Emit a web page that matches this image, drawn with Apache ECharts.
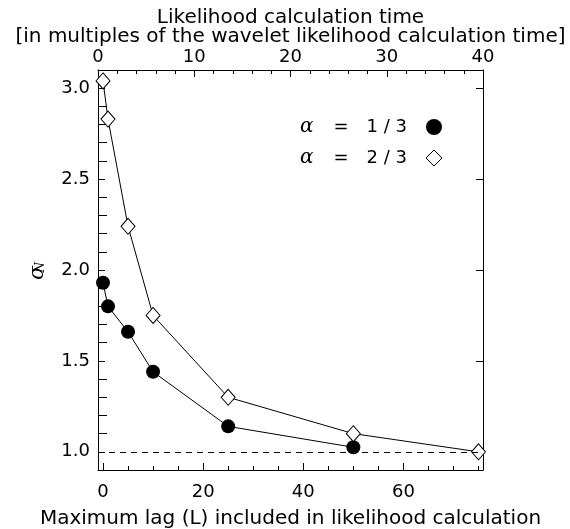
<!DOCTYPE html>
<html>
<head>
<meta charset="utf-8">
<script src="https://cdn.jsdelivr.net/npm/echarts@6/dist/echarts.min.js"></script>
<style>html,body{margin:0;padding:0;background:#fff;}#c{width:570px;height:529px;}</style>
</head>
<body>
<div id="c"></div>
<script>
// ---- data ----
const lagsThird = [0, 1, 5, 10, 25, 50];
const sigmaThird = [1.93, 1.80, 1.66, 1.44, 1.14, 1.025];
const lagsTwoThird = [0, 1, 5, 10, 25, 50, 75];
const sigmaTwoThird = [3.04, 2.83, 2.24, 1.75, 1.30, 1.10, 1.00];
const seriesNames = ['α = 1/3', 'α = 2/3'];
const bottomMajorTicks = [0, 20, 40, 60];
const bottomMinorTicks = [5, 10, 15, 25, 30, 35, 45, 50, 55, 65, 70, 75];
const leftMajorTicks = [1.0, 1.5, 2.0, 2.5, 3.0];
const leftMinorTicks = [1.1, 1.2, 1.3, 1.4, 1.6, 1.7, 1.8, 1.9, 2.1, 2.2, 2.3, 2.4, 2.6, 2.7, 2.8, 2.9];
const referenceLevel = 1.0;
const xTitle = 'Maximum lag (L) included in likelihood calculation';
const topTitle = 'Likelihood calculation time\n[in multiples of the wavelet likelihood calculation time]';

const FONT = 'DejaVu Sans';
const txt = {color: '#000', fontFamily: FONT, fontSize: 18};
const titleTxt = {color: '#000', fontFamily: FONT, fontSize: 20};
const pairs = (xs, ys) => xs.map((x, i) => [x, ys[i]]);

const XMIN = -1, XMAX = 75.9, YMIN = 0.9, YMAX = 3.1;

function xAx(extra) {
  return Object.assign({
    type: 'value', min: XMIN, max: XMAX, position: 'bottom',
    splitLine: {show: false},
    axisLine: {show: false},
    axisTick: {show: false},
    axisLabel: {show: false}
  }, extra);
}
function yAx(extra) {
  return Object.assign({
    type: 'value', min: YMIN, max: YMAX, position: 'left',
    splitLine: {show: false},
    axisLine: {show: false},
    axisTick: {show: false},
    axisLabel: {show: false}
  }, extra);
}

const chart = echarts.init(document.getElementById('c'), null, {renderer: 'canvas'});
chart.setOption({
  backgroundColor: '#fff',
  animation: false,
  grid: {left: 98, right: 87, top: 70, bottom: 59, containLabel: false, outerBoundsMode: 'none'},
  xAxis: [
    xAx({
      axisLine: {show: true, onZero: false, lineStyle: {color: '#000', width: 1}},
      axisTick: {show: true, inside: true, length: 7, lineStyle: {color: '#000'}, customValues: bottomMajorTicks},
      axisLabel: Object.assign({show: true, margin: 13, customValues: bottomMajorTicks}, txt),
      name: xTitle, nameLocation: 'middle', nameGap: 39, nameMoveOverlap: false,
      nameTextStyle: titleTxt
    }),
    xAx({
      axisTick: {show: true, inside: true, length: 4, lineStyle: {color: '#000'}, customValues: bottomMinorTicks}
    }),
    {
      type: 'value', position: 'top', min: 0, max: 40, interval: 10,
      splitLine: {show: false},
      axisLine: {show: true, onZero: false, lineStyle: {color: '#000', width: 1}},
      axisTick: {show: true, inside: true, length: 7, lineStyle: {color: '#000'}},
      minorTick: {show: true, splitNumber: 5, length: 4, lineStyle: {color: '#000'}},
      axisLabel: Object.assign({show: true, margin: 4}, txt),
      name: topTitle, nameLocation: 'middle', nameGap: 24, nameMoveOverlap: false,
      nameTextStyle: Object.assign({lineHeight: 19}, titleTxt)
    }
  ],
  yAxis: [
    yAx({
      axisLine: {show: true, onZero: false, lineStyle: {color: '#000', width: 1}},
      axisTick: {show: true, inside: true, length: 7, lineStyle: {color: '#000'}, customValues: leftMajorTicks},
      axisLabel: Object.assign({show: true, margin: 8, customValues: leftMajorTicks,
        formatter: v => v.toFixed(1)}, txt)
    }),
    yAx({
      axisTick: {show: true, inside: true, length: 4, lineStyle: {color: '#000'}, customValues: leftMinorTicks}
    }),
    yAx({
      position: 'right',
      axisLine: {show: true, onZero: false, lineStyle: {color: '#000', width: 1}},
      axisTick: {show: true, inside: true, length: 7, lineStyle: {color: '#000'}, customValues: leftMajorTicks}
    }),
    yAx({
      position: 'right',
      axisTick: {show: true, inside: true, length: 4, lineStyle: {color: '#000'}, customValues: leftMinorTicks}
    })
  ],
  legend: {
    left: 295, top: 112, orient: 'vertical', align: 'right',
    itemWidth: 16, itemHeight: 16, itemGap: 11,
    selectedMode: false,
    data: [
      {name: seriesNames[0], icon: 'circle', itemStyle: {color: '#000', borderWidth: 0}},
      {name: seriesNames[1], icon: 'diamond', itemStyle: {color: '#fff', borderColor: '#000', borderWidth: 1}}
    ],
    formatter: name => {
      const parts = name.split(' = ');
      return '{a|' + parts[0] + '}{e|=}{v|' + parts[1].split('/').join(' / ') + '}';
    },
    textStyle: {
      color: '#000', fontFamily: FONT, fontSize: 18,
      rich: {
        a: {fontFamily: 'DejaVu Serif', fontStyle: 'italic', fontSize: 20, color: '#000', padding: [0, 20, 0, 0]},
        e: {fontFamily: FONT, fontSize: 18, color: '#000', padding: [0, 18, 0, 0]},
        v: {fontFamily: FONT, fontSize: 18, color: '#000', padding: [0, 14, 0, 0]}
      }
    }
  },
  graphic: [
    {type: 'text', left: 28, top: 266, rotation: Math.PI / 2,
     style: {text: 'σ', fill: '#000', font: 'italic 20px "DejaVu Serif"'}},
    {type: 'text', left: 35, top: 262, rotation: Math.PI / 2,
     style: {text: 'N', fill: '#000', font: 'italic 12px "DejaVu Serif"'}}
  ],
  series: [
    {
      name: seriesNames[0], type: 'line', xAxisIndex: 0, yAxisIndex: 0,
      data: pairs(lagsThird, sigmaThird),
      symbol: 'circle', symbolSize: 14,
      lineStyle: {color: '#000', width: 1},
      itemStyle: {color: '#000'},
      z: 3,
      markLine: {
        silent: true, symbol: 'none', label: {show: false},
        lineStyle: {color: '#000', width: 1, type: [6, 5]},
        data: [{yAxis: referenceLevel}]
      }
    },
    {
      name: seriesNames[1], type: 'line', xAxisIndex: 0, yAxisIndex: 0,
      data: pairs(lagsTwoThird, sigmaTwoThird),
      symbol: 'diamond', symbolSize: [14, 16],
      lineStyle: {color: '#000', width: 1},
      itemStyle: {color: '#fff', borderColor: '#000', borderWidth: 1},
      z: 4
    }
  ]
});
</script>
</body>
</html>
